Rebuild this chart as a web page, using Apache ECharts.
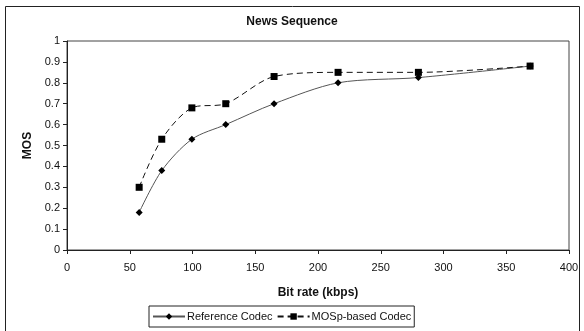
<!DOCTYPE html>
<html><head><meta charset="utf-8">
<script src="https://cdn.jsdelivr.net/npm/echarts@6/dist/echarts.min.js"></script>
<style>html,body{margin:0;padding:0;background:#fff}#c{width:584px;height:331px}</style>
</head><body><div id="c"></div>
<script>
const bitRateRef = [57.5, 75.5, 99.5, 126.5, 165, 216, 280, 369];
const mosRef = [0.18, 0.38, 0.53, 0.60, 0.70, 0.80, 0.825, 0.88];
const bitRateMosp = [57.5, 75.5, 99.5, 126.5, 165, 216, 280, 369];
const mosMosp = [0.30, 0.53, 0.68, 0.70, 0.83, 0.85, 0.85, 0.88];
const xTicks = [0, 50, 100, 150, 200, 250, 300, 350, 400];
const yTicks = [0, 0.1, 0.2, 0.3, 0.4, 0.5, 0.6, 0.7, 0.8, 0.9, 1];

const chart = echarts.init(document.getElementById('c'));
const font = 'Liberation Sans, Arial, sans-serif';
chart.setOption({
  animation: false,
  title: {text: 'News Sequence', left: 'center', top: 11,
    textStyle: {fontFamily: font, fontSize: 12, fontWeight: 'bold', color: '#111'}},
  graphic: [{type: 'rect', shape: {x: 5.5, y: 6.5, width: 574, height: 330},
    style: {fill: 'none', stroke: '#222', lineWidth: 1}, silent: true}],
  grid: {left: 67, right: 15, top: 41, bottom: 81, show: true, borderColor: '#444', borderWidth: 1},
  xAxis: {type: 'value', min: 0, max: 400, interval: 50,
    name: 'Bit rate (kbps)', nameLocation: 'middle', nameGap: 37,
    nameTextStyle: {fontFamily: font, fontSize: 12, fontWeight: 'bold', color: '#111'},
    axisLine: {lineStyle: {color: '#222'}}, axisTick: {show: true, length: 4, lineStyle: {color: '#222'}},
    splitLine: {show: false},
    axisLabel: {fontFamily: font, fontSize: 11, color: '#111', margin: 12,
      formatter: v => xTicks.includes(v) ? String(v) : ''}},
  yAxis: {type: 'value', min: 0, max: 1, interval: 0.1,
    name: 'MOS', nameLocation: 'middle', nameGap: 31, nameRotate: 90,
    nameTextStyle: {fontFamily: font, fontSize: 12, fontWeight: 'bold', color: '#111'},
    axisLine: {show: true, lineStyle: {color: '#222'}}, axisTick: {show: true, length: 4, lineStyle: {color: '#222'}},
    splitLine: {show: false},
    axisLabel: {fontFamily: font, fontSize: 11, color: '#111', margin: 7,
      formatter: v => { const t = yTicks.find(y => Math.abs(y - v) < 1e-6); return t === undefined ? '' : String(t); }}},
  legend: {bottom: 4, left: 149, itemWidth: 32, itemHeight: 8, itemGap: 4,
    borderColor: '#222', borderWidth: 1, borderRadius: 0, padding: [5, 3],
    textStyle: {fontFamily: font, fontSize: 11, color: '#111', padding: [0, 0, 0, -3]},
    data: ['Reference Codec', 'MOSp-based Codec']},
  series: [
    {name: 'Reference Codec', type: 'line', smooth: 0.3,
      data: bitRateRef.map((x, i) => [x, mosRef[i]]),
      symbol: 'diamond', symbolSize: 7,
      lineStyle: {color: '#555', width: 1},
      itemStyle: {color: '#000'}},
    {name: 'MOSp-based Codec', type: 'line', smooth: 0.3,
      data: bitRateMosp.map((x, i) => [x, mosMosp[i]]),
      symbol: 'rect', symbolSize: 7,
      lineStyle: {color: '#111', width: 1, type: [6, 4]},
      itemStyle: {color: '#000'}}
  ]
});
</script></body></html>
